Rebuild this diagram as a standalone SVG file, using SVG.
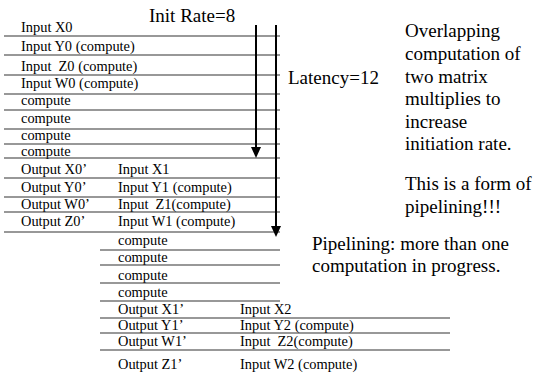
<svg xmlns="http://www.w3.org/2000/svg" width="537" height="376" viewBox="0 0 537 376">
<style>
.t{font-family:"Liberation Serif","Times New Roman",serif;font-size:14.4px;fill:#000}
.b{font-family:"Liberation Serif","Times New Roman",serif;font-size:19px;fill:#000}
.ln{stroke:#333;stroke-width:1.2;fill:none}
.ar{stroke:#000;stroke-width:2;fill:none}
</style>
<defs>
<marker id="ah" viewBox="0 -5 11 10" refX="1" refY="0" markerWidth="11" markerHeight="10" markerUnits="userSpaceOnUse" orient="auto">
<path d="M0,-5 L11,0 L0,5 z" fill="#000"/>
</marker>
</defs>
<rect width="537" height="376" fill="#fff"/>
<text class="b" x="149" y="22">Init Rate=8</text>
<text class="b" x="288" y="84">Latency=12</text>
<g id="rows">
<g id="r1"><text class="t" x="21" y="32">Input X0</text><line class="ln" x1="4" y1="36" x2="280" y2="36"/></g>
<g id="r2"><text class="t" x="21" y="51">Input Y0 (compute)</text><line class="ln" x1="4" y1="55" x2="280" y2="55"/></g>
<g id="r3"><text class="t" x="21" y="71" xml:space="preserve">Input  Z0 (compute)</text><line class="ln" x1="4" y1="75" x2="280" y2="75"/></g>
<g id="r4"><text class="t" x="21" y="88">Input W0 (compute)</text><line class="ln" x1="4" y1="94" x2="280" y2="94"/></g>
<g id="r5"><text class="t" x="21" y="105">compute</text><line class="ln" x1="4" y1="110" x2="280" y2="110"/></g>
<g id="r6"><text class="t" x="21" y="123">compute</text><line class="ln" x1="4" y1="129" x2="280" y2="129"/></g>
<g id="r7"><text class="t" x="21" y="140">compute</text><line class="ln" x1="4" y1="144" x2="280" y2="144"/></g>
<g id="r8"><text class="t" x="21" y="156">compute</text><line class="ln" x1="4" y1="158" x2="280" y2="158"/></g>
<g id="r9"><text class="t" x="21" y="174">Output X0’</text><text class="t" x="118" y="174">Input X1</text><line class="ln" x1="4" y1="178" x2="280" y2="178"/></g>
<g id="r10"><text class="t" x="21" y="192">Output Y0’</text><text class="t" x="118" y="192">Input Y1 (compute)</text><line class="ln" x1="4" y1="197" x2="280" y2="197"/></g>
<g id="r11"><text class="t" x="21" y="209">Output W0’</text><text class="t" x="118" y="209" xml:space="preserve">Input  Z1(compute)</text><line class="ln" x1="4" y1="212" x2="280" y2="212"/></g>
<g id="r12"><text class="t" x="21" y="226">Output Z0’</text><text class="t" x="118" y="226">Input W1 (compute)</text><line class="ln" x1="4" y1="232" x2="280" y2="232"/></g>
<g id="r13"><text class="t" x="118" y="245">compute</text><line class="ln" x1="100" y1="250" x2="280" y2="250"/></g>
<g id="r14"><text class="t" x="118" y="262">compute</text><line class="ln" x1="100" y1="265" x2="280" y2="265"/></g>
<g id="r15"><text class="t" x="118" y="280">compute</text><line class="ln" x1="100" y1="283" x2="280" y2="283"/></g>
<g id="r16"><text class="t" x="118" y="297">compute</text><line class="ln" x1="100" y1="301" x2="280" y2="301"/></g>
<g id="r17"><text class="t" x="118" y="314">Output X1’</text><text class="t" x="240" y="314">Input X2</text><line class="ln" x1="100" y1="318" x2="450" y2="318"/></g>
<g id="r18"><text class="t" x="118" y="330">Output Y1’</text><text class="t" x="240" y="330">Input Y2 (compute)</text><line class="ln" x1="100" y1="333" x2="450" y2="333"/></g>
<g id="r19"><text class="t" x="118" y="346">Output W1’</text><text class="t" x="240" y="346" xml:space="preserve">Input  Z2(compute)</text><line class="ln" x1="100" y1="350" x2="450" y2="350"/></g>
<g id="r20"><text class="t" x="118" y="369">Output Z1’</text><text class="t" x="240" y="369">Input W2 (compute)</text></g>
</g>
<g id="connectors">
<line class="ar" x1="256" y1="25" x2="256" y2="148" marker-end="url(#ah)"/>
<line class="ar" x1="276" y1="25" x2="276" y2="227" marker-end="url(#ah)"/>
</g>
<g id="notes">
<text class="b" x="405" y="37">Overlapping</text>
<text class="b" x="405" y="60">computation of</text>
<text class="b" x="405" y="83">two matrix</text>
<text class="b" x="405" y="105">multiplies to</text>
<text class="b" x="405" y="128">increase</text>
<text class="b" x="405" y="150">initiation rate.</text>
<text class="b" x="405" y="190">This is a form of</text>
<text class="b" x="405" y="213">pipelining!!!</text>
<text class="b" x="312" y="250">Pipelining: more than one</text>
<text class="b" x="312" y="272">computation in progress.</text>
</g>
</svg>
